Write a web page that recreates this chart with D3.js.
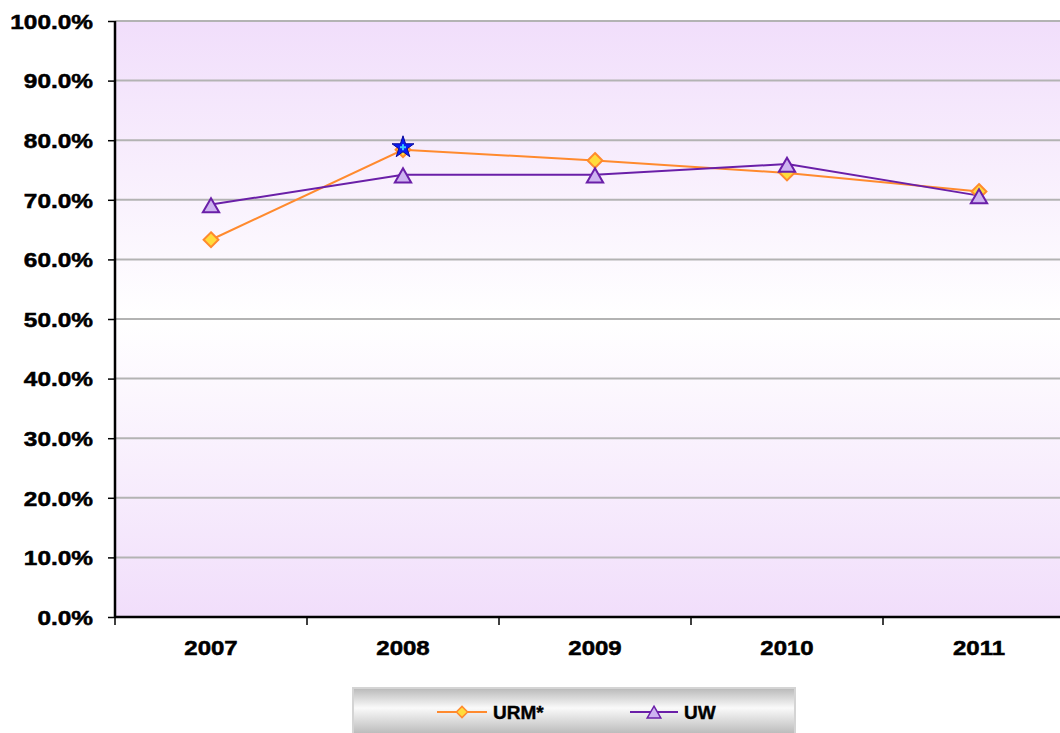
<!DOCTYPE html>
<html><head><meta charset="utf-8">
<script src="https://cdn.jsdelivr.net/npm/d3@7"></script>
<style>body{margin:0;background:#fff;overflow:hidden}svg{display:block;font-family:"Liberation Sans",Arial,sans-serif}</style>
</head><body><div id="chart"></div>
<script>
const years = ["2007","2008","2009","2010","2011"];
const urm = [0.633, 0.784, 0.766, 0.745, 0.714];
const uw = [0.692, 0.742, 0.742, 0.760, 0.707];
const yTicks = [0,0.1,0.2,0.3,0.4,0.5,0.6,0.7,0.8,0.9,1.0];
const highlight = {year:"2008", value:0.788};

const W=1060,H=733;
const svg=d3.select("#chart").append("svg").attr("width",W).attr("height",H);
const defs=svg.append("defs");
const bg=defs.append("linearGradient").attr("id","bg").attr("x1",0).attr("y1",0).attr("x2",0).attr("y2",1);
bg.append("stop").attr("offset","0%").attr("stop-color","#f1defb");
bg.append("stop").attr("offset","50%").attr("stop-color","#ffffff");
bg.append("stop").attr("offset","100%").attr("stop-color","#f1defb");
const lg=defs.append("linearGradient").attr("id","lg").attr("x1",0).attr("y1",0).attr("x2",0).attr("y2",1);
lg.append("stop").attr("offset","0%").attr("stop-color","#b8b8b8");
lg.append("stop").attr("offset","40%").attr("stop-color","#fafafa");
lg.append("stop").attr("offset","100%").attr("stop-color","#b0b0b0");

const x=d3.scaleBand().domain(years).range([115,1075]);
const y=d3.scaleLinear().domain([0,1]).range([617,21]);

svg.append("rect").attr("x",115).attr("y",y(1)).attr("width",960).attr("height",y(0)-y(1)).attr("fill","url(#bg)");

// gridlines
svg.append("g").selectAll("line").data(yTicks.filter(d=>d>0)).join("line")
 .attr("x1",115).attr("x2",1075).attr("y1",d=>y(d)).attr("y2",d=>y(d))
 .attr("stroke","#b3b3b3").attr("stroke-width",2);

// y axis
const ya=svg.append("g").attr("transform","translate(115,0)")
 .call(d3.axisLeft(y).tickValues(yTicks).tickFormat(d3.format(".1%")).tickSize(7));
ya.select(".domain").attr("stroke","#000").attr("stroke-width",2.5).attr("d","M0,"+y(1)+"V"+y(0));
ya.selectAll(".tick line").attr("stroke","#000").attr("stroke-width",1.5);
ya.selectAll("text").attr("font-size",20).attr("font-weight","bold").attr("fill","#000")
 .attr("stroke","#000").attr("stroke-width",0.5)
 .attr("x",0).attr("dy","0.36em").attr("transform","translate(-22,0) scale(1.22,1)");

// x axis
const xa=svg.append("g").attr("transform","translate(0,617)")
 .call(d3.axisBottom(x).tickSize(0));
xa.select(".domain").attr("stroke","#000").attr("stroke-width",2.5).attr("d","M115,0H1075");
xa.selectAll("text").attr("font-size",20).attr("font-weight","bold").attr("fill","#000")
 .attr("stroke","#000").attr("stroke-width",0.5)
 .attr("y",0).attr("dy",0).attr("transform","translate(0,38) scale(1.2,1)");
svg.append("g").selectAll("line").data(years.concat(["end"])).join("line")
 .attr("x1",(d,i)=>115+i*x.step()).attr("x2",(d,i)=>115+i*x.step())
 .attr("y1",617).attr("y2",625).attr("stroke","#000").attr("stroke-width",1.5);

const cx=d=>x(d)+x.bandwidth()/2;
const line=d3.line().x((d,i)=>cx(years[i])).y(d=>y(d));

svg.append("path").datum(urm).attr("d",line).attr("fill","none").attr("stroke","#ff8a2e").attr("stroke-width",2);
svg.append("path").datum(uw).attr("d",line).attr("fill","none").attr("stroke","#6a1fa8").attr("stroke-width",2);

const diamond=d3.symbol().type(d3.symbolDiamond2).size(140);
const tri=d3.symbol().type(d3.symbolTriangle).size(115);

svg.append("g").selectAll("path").data(urm).join("path")
 .attr("d",diamond).attr("transform",(d,i)=>`translate(${cx(years[i])},${y(d)})`)
 .attr("fill","#ffdc3c").attr("stroke","#ff8a2e").attr("stroke-width",2);
svg.append("g").selectAll("path").data(uw).join("path")
 .attr("d",tri).attr("transform",(d,i)=>`translate(${cx(years[i])},${y(d)+3})`)
 .attr("fill","#cdb3f0").attr("stroke","#6a1fa8").attr("stroke-width",2);

// highlight star
svg.append("path").attr("d",d3.symbol().type(d3.symbolStar).size(150))
 .attr("transform",`translate(${cx(highlight.year)},${y(highlight.value)})`)
 .attr("fill","#0a1cf5").attr("stroke","#0a0a9a").attr("stroke-width",1);
svg.append("path").attr("d",d3.symbol().type(d3.symbolCross).size(20))
 .attr("transform",`translate(${cx(highlight.year)},${y(highlight.value)})`)
 .attr("fill","#3cc8ff");

// legend
svg.append("rect").attr("x",353).attr("y",688).attr("width",442).attr("height",50)
 .attr("fill","url(#lg)").attr("stroke","#d4d4d4").attr("stroke-width",2);
const ly=712;
svg.append("line").attr("x1",437).attr("x2",487).attr("y1",ly).attr("y2",ly).attr("stroke","#ff8a2e").attr("stroke-width",2);
svg.append("path").attr("d",d3.symbol().type(d3.symbolDiamond2).size(80)).attr("transform",`translate(462,${ly})`)
 .attr("fill","#ffdc3c").attr("stroke","#ff8a2e").attr("stroke-width",1.5);
svg.append("text").attr("x",493).attr("y",ly).attr("dy","0.36em").attr("font-size",19).attr("font-weight","bold")
 .attr("stroke","#000").attr("stroke-width",0.4).text("URM*");
svg.append("line").attr("x1",630).attr("x2",678).attr("y1",ly).attr("y2",ly).attr("stroke","#6a1fa8").attr("stroke-width",2);
svg.append("path").attr("d",d3.symbol().type(d3.symbolTriangle).size(80)).attr("transform",`translate(654,${ly+2})`)
 .attr("fill","#cdb3f0").attr("stroke","#6a1fa8").attr("stroke-width",1.5);
svg.append("text").attr("x",684).attr("y",ly).attr("dy","0.36em").attr("font-size",19).attr("font-weight","bold")
 .attr("stroke","#000").attr("stroke-width",0.4).text("UW");
</script></body></html>
